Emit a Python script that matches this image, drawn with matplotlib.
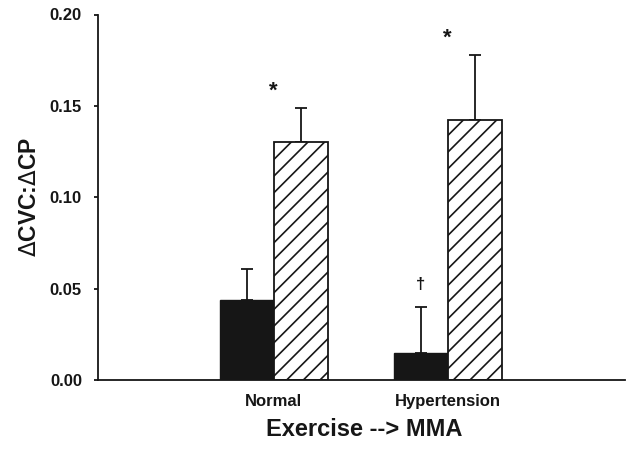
import matplotlib
matplotlib.use("Agg")
import matplotlib.pyplot as plt
import numpy as np

plt.rcParams['font.family'] = ['Liberation Sans', 'DejaVu Sans']
plt.rcParams['hatch.linewidth'] = 1.2
plt.rcParams['mathtext.fontset'] = 'dejavusans'

categories = ["Normal", "Hypertension"]
solid_vals = [0.044, 0.015]
solid_err = [0.017, 0.025]
hatched_vals = [0.130, 0.142]
hatched_err = [0.019, 0.036]
solid_marks = ["", "\u2020"]
hatched_marks = ["*", "*"]
yticks = [0.00, 0.05, 0.10, 0.15, 0.20]

fig = plt.figure(figsize=(6.26, 4.49), dpi=100)
ax = fig.add_axes([98/626, (449-380)/449, (625-98)/626, (380-14.5)/449])

x = np.arange(len(categories))
w = 0.31
ink = '#161616'
ax.bar(x - w/2, solid_vals, w, color=ink, edgecolor=ink, linewidth=1.0, zorder=2)
ax.bar(x + w/2, hatched_vals, w, color='white', edgecolor=ink, hatch='//', linewidth=1.3, zorder=2)
ekw = dict(fmt='none', ecolor=ink, elinewidth=1.3, capsize=4, capthick=1.3, zorder=1)
ax.errorbar(x - w/2, solid_vals, yerr=[np.zeros(len(x)), solid_err], **ekw)
ax.errorbar(x + w/2, hatched_vals, yerr=[np.zeros(len(x)), hatched_err], **ekw)

for xi, v, e, m in zip(x - w/2, solid_vals, solid_err, solid_marks):
    if m:
        ax.text(xi, v + e + 0.0083, m, ha='center', va='bottom', fontsize=12, fontweight='bold', color=ink)
for xi, v, e, m in zip(x + w/2, hatched_vals, hatched_err, hatched_marks):
    ax.text(xi - w/2, v + e + 0.0033, m, ha='center', va='bottom', fontsize=16, fontweight='bold', color=ink)

ax.set_xlim(-1.01, 2.02)
ax.set_ylim(0, 0.2)
ax.set_yticks(yticks)
ax.set_yticklabels([f"{t:.2f}" for t in yticks], fontsize=12, fontweight='bold', color=ink)
ax.set_xticks(x)
ax.set_xticklabels(categories, fontsize=12, fontweight='bold', color=ink)
ax.tick_params(axis='x', length=0, pad=10)
ax.tick_params(axis='y', length=3, width=1.3, direction='out', pad=8.6, color=ink)
for s in ['top', 'right']:
    ax.spines[s].set_visible(False)
for s in ['left', 'bottom']:
    ax.spines[s].set_linewidth(1.3)
    ax.spines[s].set_color(ink)

ax.set_ylabel(r"$\Delta$CVC:$\Delta$CP", fontsize=16.5, fontweight='bold', color=ink)
ax.yaxis.set_label_coords(-0.130, 0.5)
ax.yaxis.label.set_va('center')
ax.set_xlabel("Exercise --> MMA", fontsize=17, fontweight='bold', color=ink)
ax.xaxis.set_label_coords(0.505, -0.1354)
ax.xaxis.label.set_va('center')

fig.savefig("out.png", dpi=100)
